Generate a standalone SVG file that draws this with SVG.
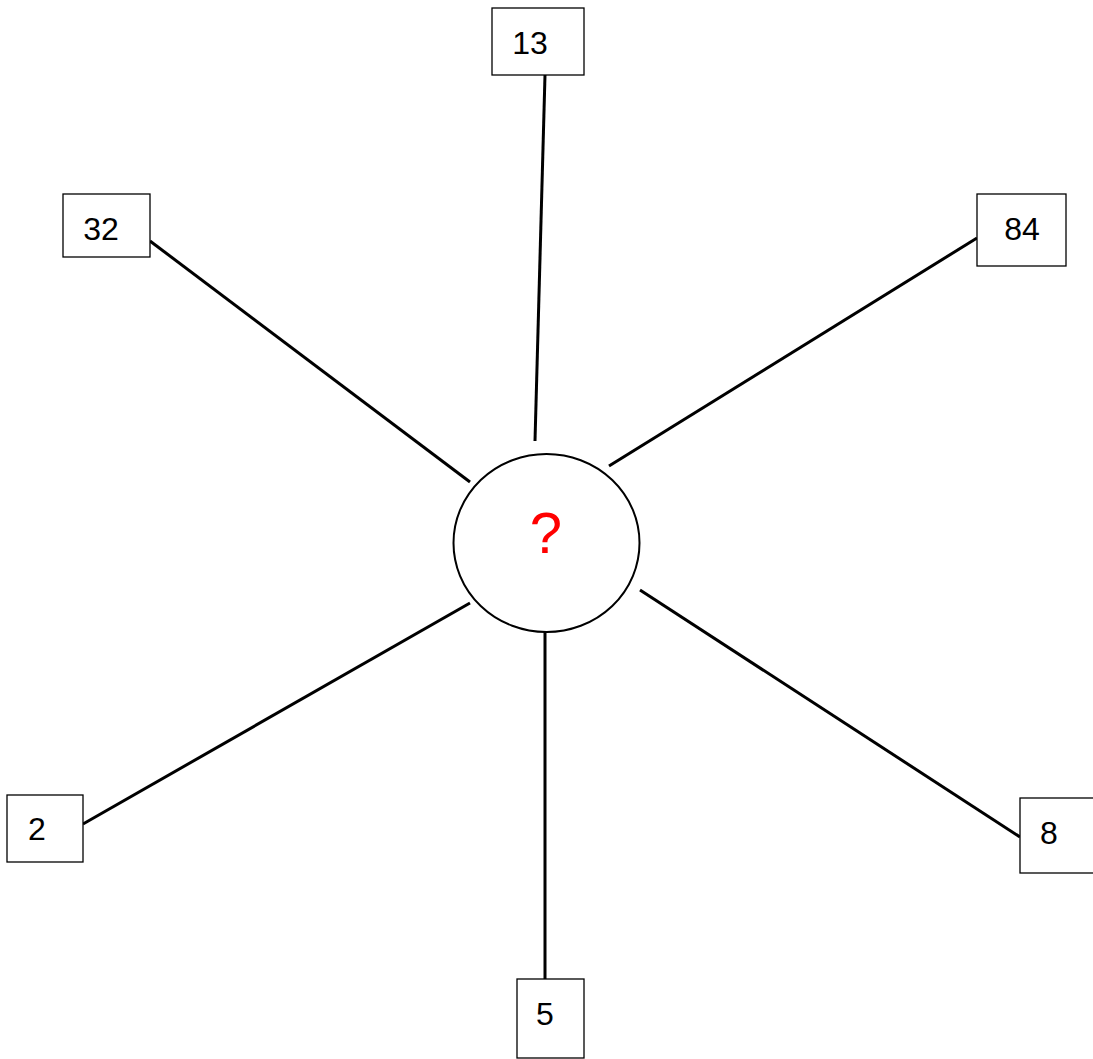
<svg xmlns="http://www.w3.org/2000/svg" width="1093" height="1059" viewBox="0 0 1093 1059">
<style>
.box{fill:#fff;stroke:#000;stroke-width:1.3}
.lbl{font-family:"Liberation Sans",Arial,sans-serif;font-size:32px;fill:#000;text-anchor:middle}
.conn line{stroke:#000;stroke-width:3}
</style>
<rect width="1093" height="1059" fill="#fff"/>
<g id="connectors" class="conn">
<line x1="545" y1="75" x2="535" y2="441"/>
<line x1="150" y1="241" x2="470" y2="482"/>
<line x1="977" y1="238" x2="609" y2="466"/>
<line x1="83" y1="824" x2="470" y2="603"/>
<line x1="640" y1="590" x2="1020" y2="837"/>
<line x1="545" y1="632" x2="545" y2="979"/>
</g>
<g id="center">
<ellipse cx="546.5" cy="543" rx="93" ry="89" fill="#fff" stroke="#000" stroke-width="2"/>
<text x="546" y="553" font-family="Liberation Sans,Arial,sans-serif" font-size="58" fill="#f00" text-anchor="middle">?</text>
</g>
<g id="n13"><rect class="box" x="492" y="8" width="92" height="67"/><text class="lbl" x="530" y="54">13</text></g>
<g id="n32"><rect class="box" x="63" y="194" width="87" height="63"/><text class="lbl" x="101" y="240">32</text></g>
<g id="n84"><rect class="box" x="977" y="194" width="89" height="72"/><text class="lbl" x="1022" y="240">84</text></g>
<g id="n2"><rect class="box" x="7" y="795" width="76" height="67"/><text class="lbl" x="37" y="840">2</text></g>
<g id="n8"><rect class="box" x="1020" y="798" width="80" height="75"/><text class="lbl" x="1049" y="844">8</text></g>
<g id="n5"><rect class="box" x="517" y="979" width="67" height="79"/><text class="lbl" x="545" y="1025">5</text></g>
</svg>
